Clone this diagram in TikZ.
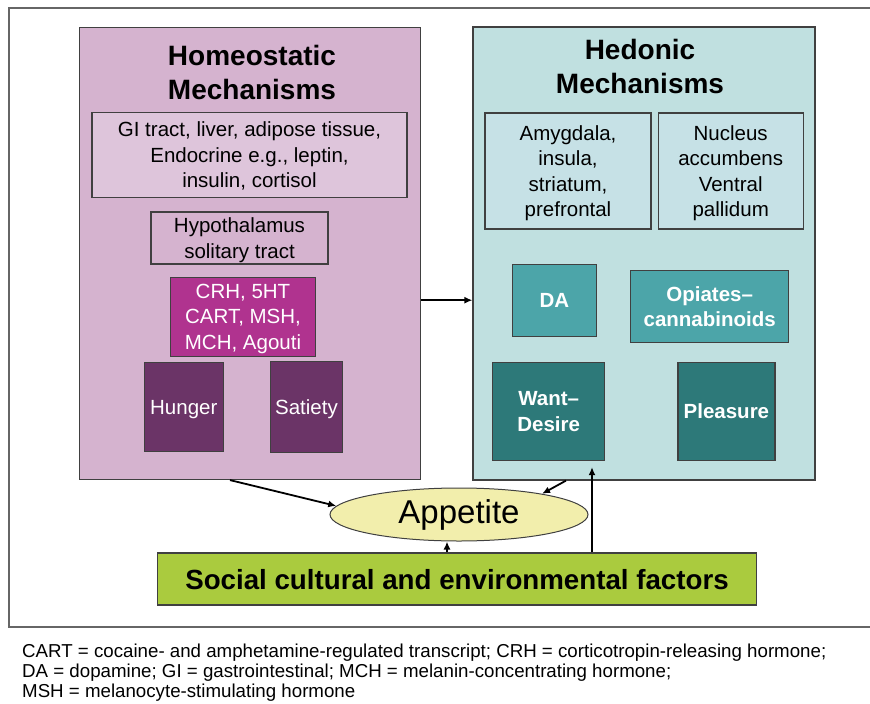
\documentclass[tikz,border=0pt]{standalone}
\usepackage{fontspec}
\setmainfont{Liberation Sans}
\usetikzlibrary{shapes.geometric,arrows.meta,positioning}

\definecolor{homeofill}{HTML}{D5B3CF}
\definecolor{gifill}{HTML}{DEC5DB}
\definecolor{crhfill}{HTML}{B0338F}
\definecolor{hungerfill}{HTML}{6B3467}
\definecolor{hedofill}{HTML}{C0E0E0}
\definecolor{areafill}{HTML}{C6E1E6}
\definecolor{dafill}{HTML}{4CA5A9}
\definecolor{wantfill}{HTML}{2D7979}
\definecolor{appfill}{HTML}{F2EEAC}
\definecolor{socialfill}{HTML}{AACB3E}
\definecolor{edge}{HTML}{404040}

\begin{document}
\begin{tikzpicture}[x=1pt, y=-1pt,
    main box/.style={draw=edge, line width=1.2pt, rectangle, inner sep=0pt, align=center,
                     text depth=0pt, font=\fontsize{20.5}{25.5}\selectfont},
    dark box/.style={main box, text=white},
    bold box/.style={dark box, font=\fontsize{20.5}{25.5}\selectfont\bfseries},
    title/.style={align=center, font=\fontsize{28}{34}\selectfont\bfseries},
    arr/.style={line width=1.8pt, -{Latex[length=8pt,width=7pt]}}]

  \useasboundingbox (0,0) rectangle (870,704);
  \draw[line width=1.5pt, black!60] (870,8) -- (9,8) -- (9,627) -- (870,627);

  % homeostatic side
  \node[main box, fill=homeofill, minimum width=341pt, minimum height=452pt] (homeo) at (250,253.5) {};
  \node[title] (homeotitle) at (252,72) {Homeostatic\\Mechanisms};
  \node[main box, fill=gifill, minimum width=315pt, minimum height=85pt] (gi) at (249.5,155)
       {GI tract, liver, adipose tissue,\\Endocrine e.g., leptin,\\insulin, cortisol};
  \node[main box, fill=homeofill, minimum width=177pt, minimum height=52pt] (hypo) at (239.5,238)
       {Hypothalamus\\solitary tract};
  \node[dark box, fill=crhfill, minimum width=145pt, minimum height=79pt] (crh) at (243,316.7)
       {CRH, 5HT\\CART, MSH,\\MCH, Agouti};
  \node[dark box, fill=hungerfill, minimum width=79pt, minimum height=89pt] (hunger) at (183.8,407.3) {Hunger};
  \node[dark box, fill=hungerfill, minimum width=72pt, minimum height=91pt] (satiety) [right=46pt of hunger] {Satiety};

  % hedonic side
  \node[main box, fill=hedofill, minimum width=342pt, minimum height=453pt] (hedonic) at (644,253.5) {};
  \node[title] (hedotitle) at (640,66) {Hedonic\\Mechanisms};
  \node[main box, fill=areafill, minimum width=166pt, minimum height=116pt] (amyg) at (568,171)
       {Amygdala,\\insula,\\striatum,\\prefrontal};
  \node[main box, fill=areafill, minimum width=145pt, minimum height=116pt] (nacc) [right=6pt of amyg]
       {Nucleus\\accumbens\\Ventral\\pallidum};
  \node[bold box, fill=dafill, minimum width=84pt, minimum height=72pt] (da) at (554.3,300.2) {DA};
  \node[bold box, fill=dafill, minimum width=158pt, minimum height=72pt] (opi) at (709.7,306.5)
       {Opiates--\\cannabinoids};
  \node[bold box, fill=wantfill, minimum width=112pt, minimum height=98pt] (want) at (548.7,411.5)
       {Want--\\Desire};
  \node[bold box, fill=wantfill, minimum width=97pt, minimum height=98pt] (pleasure) [right=72pt of want] {Pleasure};

  % appetite and outside factors
  \node[ellipse, draw=edge, line width=1pt, fill=appfill, minimum width=258pt, minimum height=53pt,
        inner sep=0pt, font=\fontsize{33}{38}\selectfont] (appetite) at (459,514.5) {Appetite};
  \node[main box, fill=socialfill, minimum width=599pt, minimum height=52pt,
        font=\fontsize{27.7}{32}\selectfont\bfseries] (social) at (457,579)
       {Social cultural and environmental factors};

  \draw[arr] (homeo.east |- da.center) -- (hedonic.west |- da.center);
  \draw[arr] ([xshift=-20pt]homeo.south) -- (appetite.176);
  \draw[arr] ([xshift=-78pt]hedonic.south) -- (appetite.14);
  \draw[arr] ([xshift=-10pt]social.north) -- ([xshift=-10pt]social.north |- appetite.south);
  \draw[arr, shorten >=6pt] ([xshift=135pt]social.north) -- ([xshift=135pt]social.north |- want.south);

  \node[anchor=north west, align=left, inner sep=0pt, font=\fontsize{18.7}{20}\selectfont] (notes) at (22,644)
       {CART = cocaine- and amphetamine-regulated transcript; CRH = corticotropin-releasing hormone;\\
        DA = dopamine; GI = gastrointestinal; MCH = melanin-concentrating hormone;\\
        MSH = melanocyte-stimulating hormone};

\end{tikzpicture}
\end{document}
